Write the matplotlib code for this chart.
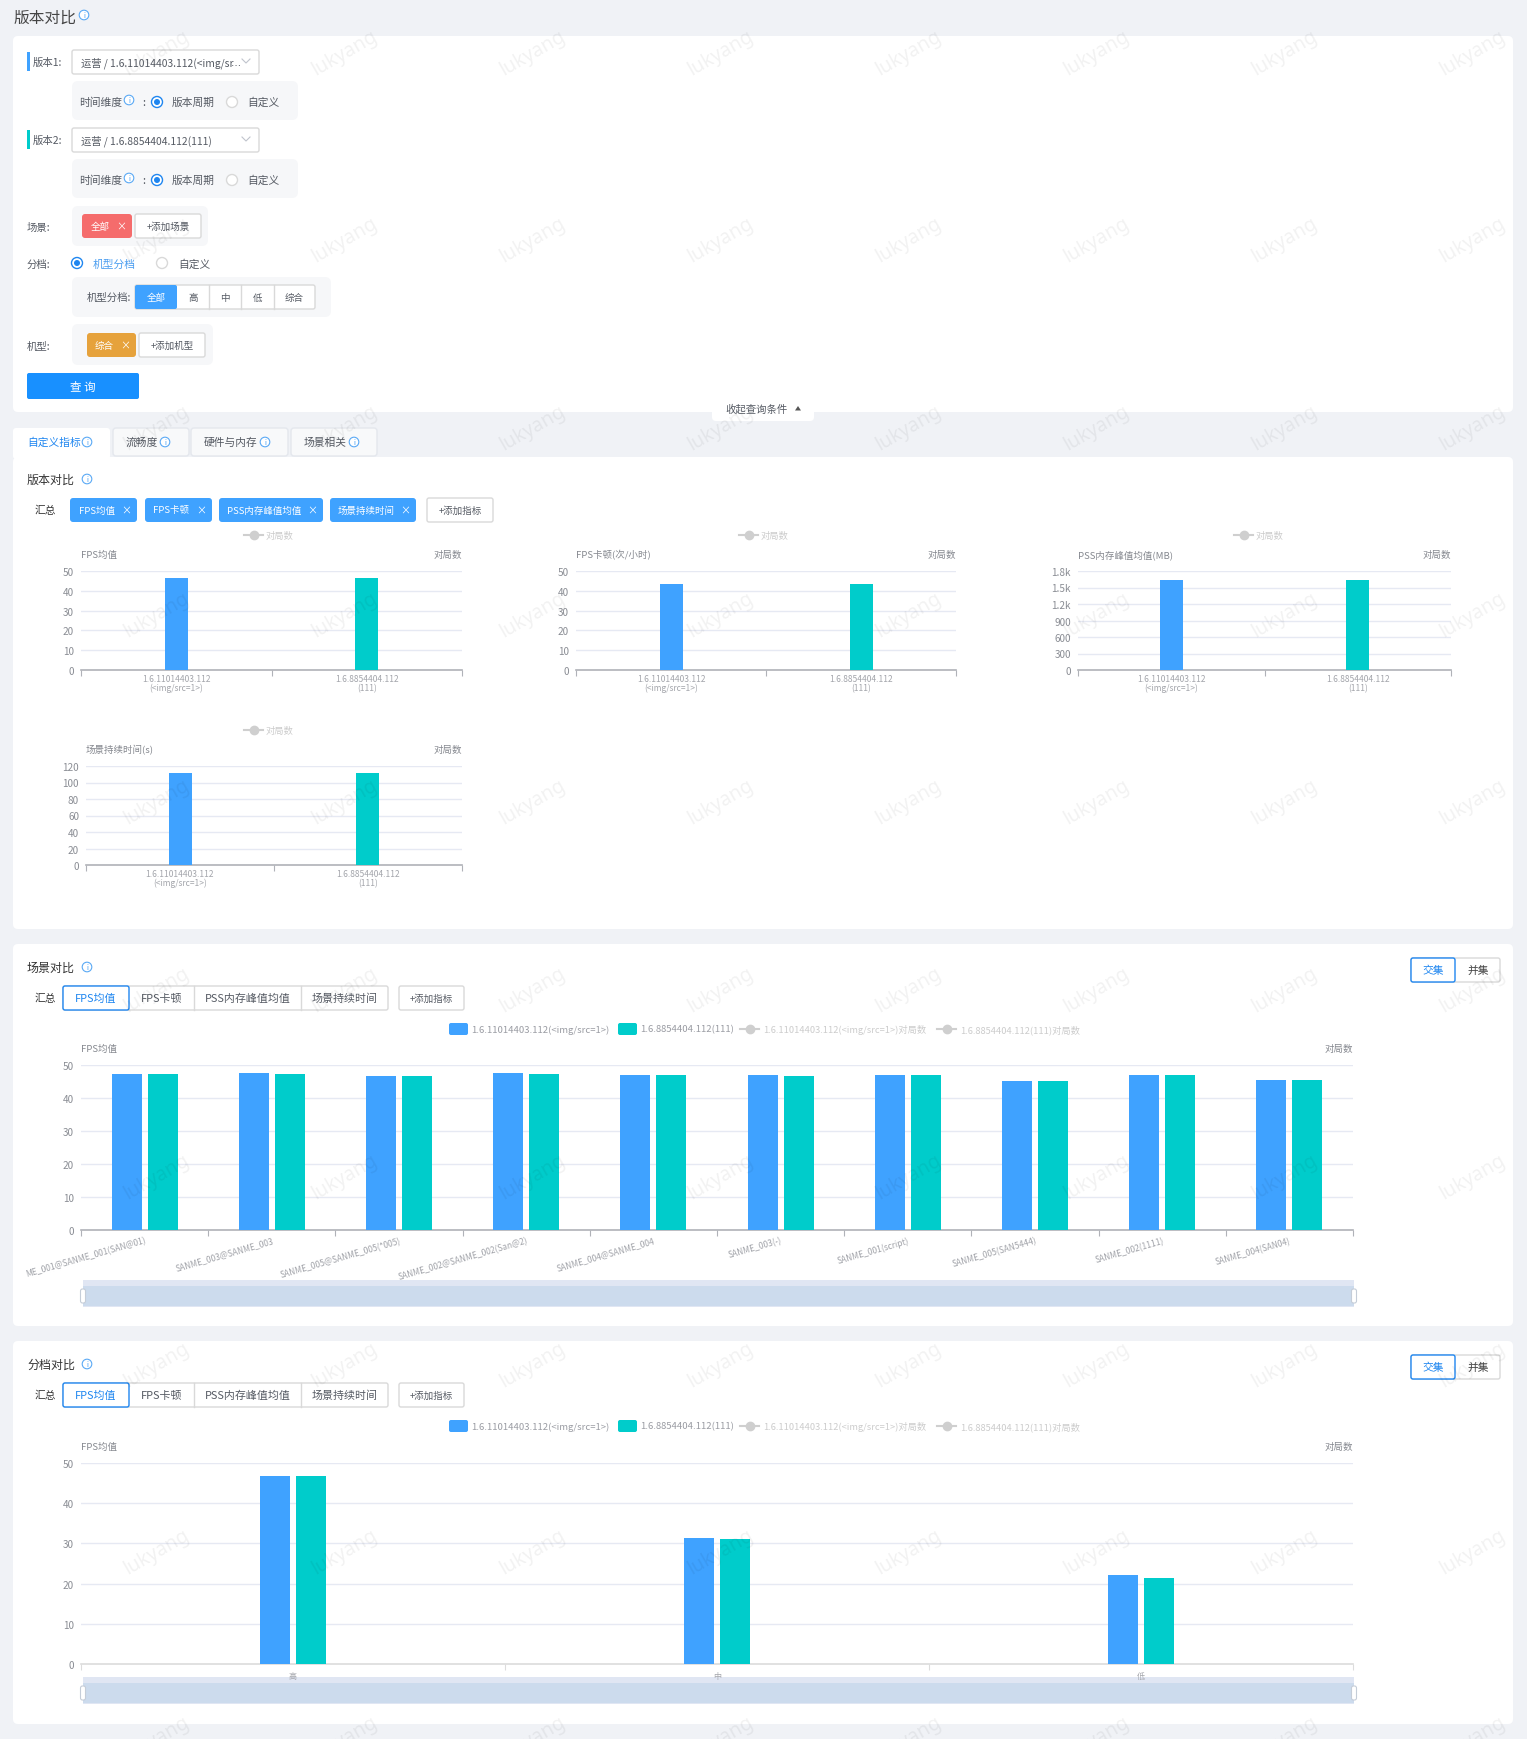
import matplotlib
matplotlib.use('Agg')
import matplotlib.pyplot as plt
from matplotlib.patches import FancyBboxPatch, Circle, Rectangle, Polygon

plt.rcParams['font.family'] = ['Noto Sans CJK SC', 'DejaVu Sans']

W, H = 1527, 1740
BLUE = '#3fa2ff'
TEAL = '#00cccb'
PAGE = '#f0f2f6'
TXT = '#555a63'
GREY = '#9a9ca3'

# data
ver1 = '1.6.11014403.112(<img/src=1>)'
ver2 = '1.6.8854404.112(111)'
count_name = '对局数'
tick_vers = ['1.6.11014403.112\n(<img/src=1>)', '1.6.8854404.112\n(111)']

fps_mean = [46.5, 46.5]
fps_stutter = [43.4, 43.4]
pss_peak = [1636, 1636]
scene_time = [111.5, 111.5]

scene_cats = ['ME_001@SANME_001(SAN@01)', 'SANME_003@SANME_003', 'SANME_005@SANME_005(*005)',
              'SANME_002@SANME_002(San@2)', 'SANME_004@SANME_004', 'SANME_003(-)',
              'SANME_001(script)', 'SANME_005(SAN5444)', 'SANME_002(1111)', 'SANME_004(SAN04)']
scene_v1 = [47.4, 47.5, 46.8, 47.5, 47.1, 47.0, 47.0, 45.2, 46.9, 45.6]
scene_v2 = [47.4, 47.4, 46.8, 47.4, 47.1, 46.8, 47.1, 45.3, 47.0, 45.5]

tier_cats = ['高', '中', '低']
tier_v1 = [46.8, 31.4, 22.1]
tier_v2 = [46.8, 31.1, 21.4]

metric_tabs = ['FPS均值', 'FPS卡顿', 'PSS内存峰值均值', '场景持续时间']

fig = plt.figure(figsize=(W/100, H/100), dpi=100, facecolor=PAGE)
bg = fig.add_axes([0, 0, 1, 1], zorder=0)
bg.set_xlim(0, W)
bg.set_ylim(H, 0)
bg.axis('off')


def box(x0, y0, x1, y1, fc='white', ec='none', r=3, lw=1, z=1):
    pad = min(r, (x1-x0)/2, (y1-y0)/2)
    p = FancyBboxPatch((x0+pad, y0+pad), x1-x0-2*pad, y1-y0-2*pad,
                       boxstyle='round,pad=%s,rounding_size=%s' % (pad, pad),
                       fc=fc, ec=ec, lw=lw, zorder=z)
    bg.add_patch(p)


def txt(x, y, s, px=12, c=TXT, ha='left', z=5, **kw):
    # CJK glyphs sit a bit high when centred, hence the +1
    bg.text(x, y+1, s, fontsize=px*0.72, color=c, ha=ha, va='center', zorder=z, **kw)


def info(x, y):
    bg.add_patch(Circle((x, y), 4.8, fc='white', ec='#5aa9f5', lw=0.8, zorder=5))
    txt(x, y-1, 'i', 7, '#3f9cf5', 'center')


def radio(x, y, on=False):
    if on:
        bg.add_patch(Circle((x, y), 5.5, fc='white', ec='#1f86f0', lw=1, zorder=5))
        bg.add_patch(Circle((x, y), 3, fc='#1f86f0', ec='none', zorder=6))
    else:
        bg.add_patch(Circle((x, y), 5.5, fc='white', ec='#d9d9d9', lw=1, zorder=5))


def tag(x0, x1, y0, y1, s, fc, px=10, xpos=None):
    box(x0, y0, x1, y1, fc=fc, r=3, z=3)
    xpos = xpos if xpos is not None else x1-11
    txt((x0+xpos-3)/2, (y0+y1)/2-1, s, px, 'white', 'center')
    txt(xpos, (y0+y1)/2-1, '×', 10, 'white', 'center')


def btn(x0, x1, y0, y1, s, px=10, c=TXT):
    box(x0, y0, x1, y1, fc='white', ec='#d9d9d9', r=2, z=3)
    txt((x0+x1)/2, (y0+y1)/2-1, s, px, c, 'center')


def chevron(x, y):
    bg.plot([x-4, x, x+4], [y-2, y+2, y-2], color='#c0c4cc', lw=0.8, zorder=5)


def time_row(y0):
    box(72, y0, 298, y0+39, fc='#f6f7f9', r=6)
    yc = y0+20
    txt(79, yc, '时间维度', 10.7)
    info(129, yc-1)
    txt(144, yc, ':', 11, TXT, 'center')
    radio(157, yc+1, True)
    txt(172, yc, '版本周期', 10.7)
    radio(232, yc+1)
    txt(247, yc, '自定义', 10.7)


def seg_row(y0, x_ends=(63, 129, 194, 301, 388)):
    txt(35, y0+11, '汇总', 10.7, '#333333')
    box(x_ends[0], y0, x_ends[-1], y0+24, fc='white', ec='#d9d9d9', r=2, z=2)
    for i, s in enumerate(metric_tabs):
        xa, xb = x_ends[i], x_ends[i+1]
        if i == 0:
            box(xa, y0, xb, y0+24, fc='white', ec='#1f86f0', r=2, z=3)
        elif i > 1:
            bg.plot([xa, xa], [y0, y0+24], color='#d9d9d9', lw=1, zorder=3)
        txt((xa+xb)/2, y0+11, s, 11, '#1f86f0' if i == 0 else TXT, 'center')
    btn(399, 464, y0, y0+24, '+添加指标', 9.5)
    box(1411, y0-28, 1500, y0-4, fc='white', ec='#d9d9d9', r=2, z=2)
    box(1411, y0-28, 1455, y0-4, fc='white', ec='#1f86f0', r=2, z=3)
    txt(1433, y0-17, '交集', 10.7, '#1f86f0', 'center')
    txt(1478, y0-17, '并集', 10.7, '#444444', 'center')


def line_key(x0, x1, y):
    bg.plot([x0, x1], [y, y], color='#cfcfcf', lw=1.5, zorder=5)
    bg.plot([(x0+x1)/2], [y], 'o', color='#cfcfcf', ms=6, zorder=5)


def wide_legend(y):
    box(449, y-6, 468, y+6, fc=BLUE, r=2, z=4)
    txt(471, y-1, ver1, 9.5, GREY)
    box(618, y-6, 637, y+6, fc=TEAL, r=2, z=4)
    txt(640, y-1, ver2, 9.5, GREY)
    line_key(740, 759, y)
    txt(763, y-1, ver1+count_name, 9.3, '#cccccc')
    line_key(937, 956, y)
    txt(960, y-1, ver2+count_name, 9.3, '#cccccc')


def slider(y0, y1):
    bg.add_patch(Rectangle((83, y0), 1271, y1-y0, fc='#e0e6f3', ec='none', zorder=2))
    bg.add_patch(Rectangle((83, y0+6), 1271, y1-y0-7, fc='#ccdbed', ec='none', zorder=3))
    for xh in (83, 1354):
        box(xh-2.5, y0+9, xh+2.5, y1-4, fc='white', ec='#c5cdd8', r=2, lw=0.8, z=4)


def chart(x0, x1, y0, y1, name, v1, v2, cats, ymax, yticks, ylabs, bar_w, gap=None,
          rot=0, axis_c='#b0b2b8', lab_px=8.4, pad=3):
    # y0 top gridline, y1 baseline, all in figure pixels
    ax = fig.add_axes([x0/W, 1-y1/H, (x1-x0)/W, (y1-y0)/H], zorder=2)
    ax.patch.set_alpha(0)
    n = len(cats)
    cw = (x1-x0)/n
    ax.set_xlim(0, n)
    ax.set_ylim(0, ymax)
    if gap is None:
        ax.bar([0.5], v1[:1], width=bar_w/cw, color=BLUE, zorder=3)
        ax.bar([1.5], v2[1:], width=bar_w/cw, color=TEAL, zorder=3)
    else:
        off = (bar_w+gap)/2/cw
        ax.bar([i+0.5-off for i in range(n)], v1, width=bar_w/cw, color=BLUE, zorder=3)
        ax.bar([i+0.5+off for i in range(n)], v2, width=bar_w/cw, color=TEAL, zorder=3)
    ax.set_yticks(yticks)
    ax.set_yticklabels(ylabs, fontsize=7.2, color='#8a8d94', va='center_baseline')
    ax.grid(axis='y', color='#e6e9f3', lw=1, zorder=1)
    ax.tick_params(axis='y', length=0, pad=5)
    for s in ('top', 'left', 'right'):
        ax.spines[s].set_visible(False)
    ax.spines['bottom'].set_color(axis_c)
    ax.spines['bottom'].set_linewidth(1.2)
    ax.set_xticks(range(n+1))
    ax.set_xticklabels([])
    ax.set_xticks([i+0.5 for i in range(n)], minor=True)
    ax.tick_params(axis='x', which='major', length=4, width=0.8, color=axis_c)
    ax.tick_params(axis='x', which='minor', length=0, pad=pad)
    if rot:
        ax.set_xticklabels(cats, minor=True, fontsize=lab_px*0.72, color='#a0a2a8', rotation=rot,
                           ha='right', va='top', rotation_mode='anchor')
    else:
        ax.set_xticklabels(cats, minor=True, fontsize=lab_px*0.72, color='#a3a5ab', linespacing=1.0)
    txt(x0, y0-18, name, 9.5, '#85888f')
    txt(x1, y0-18, count_name, 9.5, '#85888f', 'right')
    return ax


# panels
txt(13, 17, '版本对比', 15.7, '#444444')
info(84, 16)
box(13, 37, 1513, 413, r=5)
box(712, 400, 814, 422, r=4, z=2)
txt(725, 408, '收起查询条件', 10.4, TXT)
bg.add_patch(Polygon([[795, 411.5], [801, 411.5], [798, 407]], fc='#555555', ec='none', zorder=5))

box(13, 458, 1513, 930, r=5)
box(13, 945, 1513, 1327, r=5)
box(13, 1342, 1513, 1725, r=5)

# query form
bg.add_patch(Rectangle((27, 53), 3, 19, fc=BLUE, ec='none', zorder=3))
txt(33, 62, '版本1:', 10.4)
box(72, 51, 259, 75, ec='#d9d9d9', r=2, z=2)
txt(81, 62, '运营 / 1.6.11014403.112(<img/sr', 10.3)
txt(231, 62, '…', 10.3, family='DejaVu Sans')
chevron(246, 62)
time_row(82)
bg.add_patch(Rectangle((27, 131), 3, 19, fc=TEAL, ec='none', zorder=3))
txt(33, 140, '版本2:', 10.4)
box(72, 129, 259, 153, ec='#d9d9d9', r=2, z=2)
txt(81, 140, '运营 / 1.6.8854404.112(111)', 10.3)
chevron(246, 140)
time_row(160)

txt(27, 227, '场景:', 10.4)
box(72, 207, 208, 247, fc='#f6f7f9', r=6)
tag(82, 132, 215, 239, '全部', '#f56c6c', 9.5, 121)
btn(135, 201, 215, 239, '+添加场景', 9.5)

txt(27, 264, '分档:', 10.4)
radio(77, 264, True)
txt(93, 264, '机型分档', 10.7, '#4a9df0')
radio(162, 264)
txt(178, 264, '自定义', 10.7)
box(72, 278, 331, 318, fc='#f6f7f9', r=6)
txt(87, 297, '机型分档:', 10.4)
box(135, 286, 315, 310, ec='#d9d9d9', r=2, z=2)
box(135, 286, 177, 310, fc=BLUE, r=2, z=3)
txt(156, 297, '全部', 9.5, 'white', 'center')
for xs, xe, s in [(177, 209, '高'), (209, 241, '中'), (241, 274, '低'), (274, 315, '综合')]:
    txt((xs+xe)/2, 297, s, 9.5, TXT, 'center')
    if xe < 315:
        bg.plot([xe, xe], [286, 310], color='#d9d9d9', lw=1, zorder=3)

txt(27, 346, '机型:', 10.4)
box(72, 325, 213, 366, fc='#f6f7f9', r=6)
tag(87, 136, 334, 358, '综合', '#e6a23c', 9.5, 125)
btn(139, 205, 334, 358, '+添加机型', 9.5)
box(27, 374, 139, 400, fc='#1890ff', r=2)
txt(83, 386, '查 询', 11.5, 'white', 'center')

# tabs
tabs = [(13, 110, '自定义指标', 27, 87), (113, 189, '流畅度', 126, 165),
        (191, 288, '硬件与内存', 204, 265), (291, 377, '场景相关', 304, 354)]
for i, (xa, xb, s, xt, xi) in enumerate(tabs):
    box(xa, 429, xb, 460 if i == 0 else 457, fc='white' if i == 0 else '#f8f9fa',
        ec='none' if i == 0 else '#e4e7ed', r=3, z=2)
    txt(xt, 442, s, 10.7, '#1f86f0' if i == 0 else TXT)
    info(xi, 443)

# version section
txt(27, 479, '版本对比', 12, '#333333')
info(87, 480)
txt(35, 510, '汇总', 10.7, '#333333')
for xa, xb, s in [(70, 137, 'FPS均值'), (145, 212, 'FPS卡顿'), (219, 323, 'PSS内存峰值均值'), (330, 416, '场景持续时间')]:
    tag(xa, xb, 499, 523, s, BLUE, 9.5)
btn(427, 493, 499, 523, '+添加指标', 9.5)

for lx in (244, 739, 1234):
    line_key(lx, lx+19, 536)
    txt(lx+22, 535, count_name, 9.3, '#cccccc')
line_key(244, 263, 731)
txt(266, 730, count_name, 9.3, '#cccccc')

tens = [0, 10, 20, 30, 40, 50]
chart(81, 462, 572, 671, 'FPS均值', fps_mean, fps_mean, tick_vers, 50, tens, [str(t) for t in tens], 23)
chart(576, 956, 572, 671, 'FPS卡顿(次/小时)', fps_stutter, fps_stutter, tick_vers, 50, tens, [str(t) for t in tens], 23)
pss_t = [0, 300, 600, 900, 1200, 1500, 1800]
chart(1078, 1451, 572, 671, 'PSS内存峰值均值(MB)', pss_peak, pss_peak, tick_vers, 1800, pss_t,
      ['0', '300', '600', '900', '1.2k', '1.5k', '1.8k'], 23)
sec_t = [0, 20, 40, 60, 80, 100, 120]
chart(86, 462, 767, 866, '场景持续时间(s)', scene_time, scene_time, tick_vers, 120, sec_t, [str(t) for t in sec_t], 23)

# scene section
txt(27, 967, '场景对比', 12, '#333333')
info(87, 968)
seg_row(987)
wide_legend(1030)
chart(81, 1353, 1066, 1231, 'FPS均值', scene_v1, scene_v2, scene_cats, 50, tens, [str(t) for t in tens],
      30, gap=6, rot=16, lab_px=8.4, pad=4)
slider(1281, 1308)

# tier section
txt(27, 1364, '分档对比', 12, '#333333')
info(87, 1365)
seg_row(1384)
wide_legend(1427)
chart(81, 1353, 1464, 1665, 'FPS均值', tier_v1, tier_v2, tier_cats, 50, tens, [str(t) for t in tens],
      30, gap=6, axis_c='#dcdcdc', lab_px=8, pad=5)
slider(1678, 1705)

# watermark over everything, bottom row is cut by the page edge like the original
for j in range(0, 10):
    for i in range(0, 8):
        wx, wy = 157+188*i, 53+187.4*j
        fig.text(wx/W, 1-wy/H, 'lukyang', fontsize=14, color='#000000', alpha=0.055, rotation=30,
                 ha='center', va='center', zorder=10, family=['Noto Sans', 'DejaVu Sans'])

fig.savefig('out.png', dpi=100, facecolor=PAGE)
